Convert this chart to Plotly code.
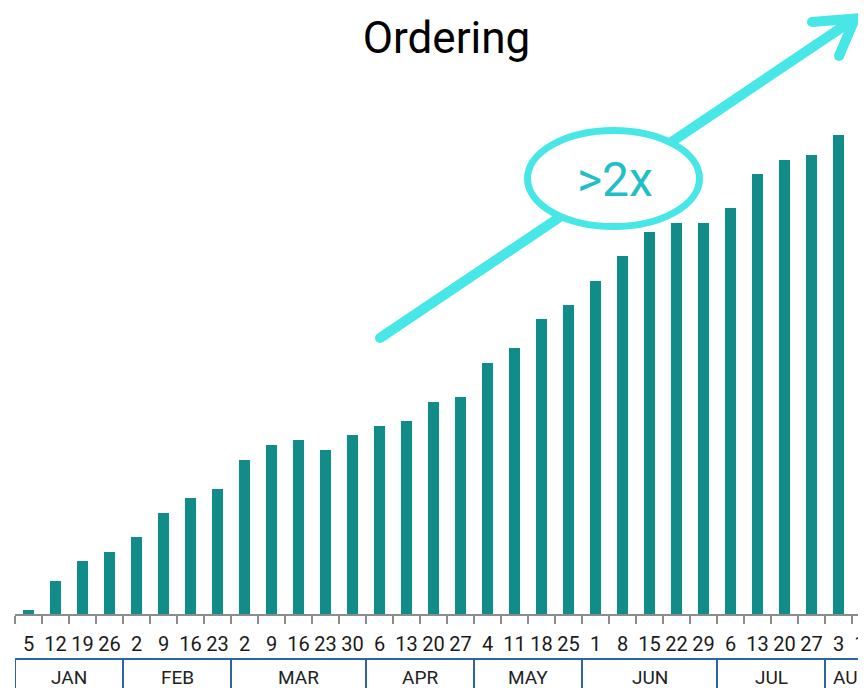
import plotly.graph_objects as go

# ---- data ----
month_names = ["JAN", "FEB", "MAR", "APR", "MAY", "JUN", "JUL", "AUG"]
weeks_per_month = [4, 4, 5, 4, 4, 5, 4, 2]
day_labels = ["5", "12", "19", "26",
              "2", "9", "16", "23",
              "2", "9", "16", "23", "30",
              "6", "13", "20", "27",
              "4", "11", "18", "25",
              "1", "8", "15", "22", "29",
              "6", "13", "20", "27",
              "3", "10"]
orders = [4, 33, 53, 62, 77, 101, 116, 125, 154, 169, 174, 164, 179, 188, 193, 212,
          217, 251, 266, 295, 309, 333, 358, 382, 391, 391, 406, 440, 454, 459, 479, 493]
title_text = "Ordering"
badge_text = ">2x"

# ---- styles ----
BAR = "#128C89"
ARROW = "#47E6E7"
BADGE = "#1FC0C5"
BOX = "#3062A8"
AXIS = "#8C8C8C"
FONT = "Roboto, sans-serif"

OFF = 8                      # page body margin
W, H = 866, 688              # figure size
STEP = 27.0                  # px per week
PL, PT, PH = 15, 14, 600     # plot area origin in window pixels
PW = W - (PL - OFF)          # plot width (right margin 0)
x_end = -0.5 + PW / STEP

week_months = []
for m, n in zip(month_names, weeks_per_month):
    week_months += [m] * n
categories = [f"{m} {d}" for m, d in zip(week_months, day_labels)]

fig = go.Figure(go.Bar(x=categories, y=orders, marker_color=BAR,
                       marker_line_width=0, hoverinfo="x+y"))


def px(X, Y):
    """window pixel -> paper coords"""
    return (X - PL) / PW, (PT + PH - Y) / PH


shapes = []
annotations = []

# month boxes under the axis
box_top = (PT + PH - 659) / PH
box_bot = -0.25
shapes.append(dict(type="line", xref="x", yref="paper", x0=-0.5, x1=x_end,
                   y0=box_top, y1=box_top, line=dict(color=BOX, width=2)))
start = 0
for m, n in zip(month_names, weeks_per_month):
    shapes.append(dict(type="line", xref="x", yref="paper", x0=start - 0.5, x1=start - 0.5,
                       y0=box_top, y1=box_bot, line=dict(color=BOX, width=2)))
    annotations.append(dict(xref="x", yref="paper", x=start + (n - 1) / 2, y=(PT + PH - 677) / PH,
                            text=m, showarrow=False, font=dict(family=FONT, size=19, color="#222222"),
                            xanchor="center", yanchor="middle"))
    start += n

# arrow
x0, y0 = px(380, 338)
xv, yv = px(855, 18.5)
shapes.append(dict(type="line", xref="paper", yref="paper", x0=x0, y0=y0, x1=xv, y1=yv,
                   line=dict(color=ARROW, width=10)))
b1x, b1y = px(812, 22)
b2x, b2y = px(839, 56)
shapes.append(dict(type="path", xref="paper", yref="paper",
                   path=f"M{b1x},{b1y} L{xv},{yv} L{b2x},{b2y}",
                   line=dict(color=ARROW, width=10)))
for (cx, cy) in [(380, 338), (812, 22), (839, 56)]:
    a0, c0 = px(cx - 5, cy + 5)
    a1, c1 = px(cx + 5, cy - 5)
    shapes.append(dict(type="circle", xref="paper", yref="paper", x0=a0, y0=c0, x1=a1, y1=c1,
                       fillcolor=ARROW, line=dict(width=0)))

# ellipse badge
e0x, e0y = px(527.5, 226.5)
e1x, e1y = px(699.5, 130.5)
shapes.append(dict(type="circle", xref="paper", yref="paper", x0=e0x, y0=e0y, x1=e1x, y1=e1y,
                   fillcolor="white", line=dict(color=ARROW, width=7)))
tx, ty = px(614.5, 180)
annotations.append(dict(xref="paper", yref="paper", x=tx, y=ty, text=badge_text, showarrow=False,
                        font=dict(family=FONT, size=48, color=BADGE),
                        xanchor="center", yanchor="middle"))

fig.update_layout(
    template="none",
    width=W, height=H,
    margin=dict(l=PL - OFF, r=0, t=PT - OFF, b=H - (PT - OFF) - PH, pad=0),
    paper_bgcolor="white", plot_bgcolor="white",
    showlegend=False,
    bargap=0.59,
    title=dict(text=title_text, xref="container", yref="container",
               x=(446.5 - OFF) / W, y=1 - (38 - OFF) / H,
               xanchor="center", yanchor="middle",
               font=dict(family=FONT, size=44, color="#000000")),
    xaxis=dict(type="category", range=[-0.5, x_end], tickvals=categories,
               ticktext=day_labels, tickson="boundaries", ticks="outside", ticklen=8,
               tickwidth=2, tickcolor=AXIS, showline=True, linecolor=AXIS, linewidth=2,
               showgrid=False, zeroline=False, tickangle=0, automargin=False,
               ticklabelstandoff=11,
               tickfont=dict(family=FONT, size=20, color="#1A1A1A")),
    yaxis=dict(visible=False, range=[0, PH], fixedrange=True, automargin=False),
    shapes=shapes,
    annotations=annotations,
)

fig.write_html("out.html")
